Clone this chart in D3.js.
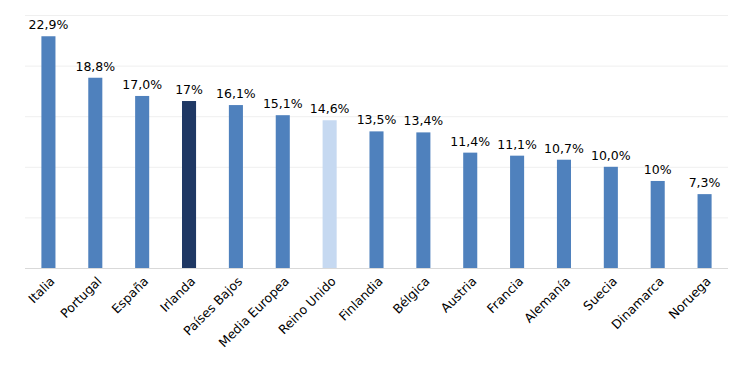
<!DOCTYPE html>
<html lang="es">
  <head>
    <meta charset="UTF-8" />
    <title>Bar Chart</title>
    <script src="https://d3js.org/d3.v7.min.js"></script>
    <style>
      body {
        margin: 0;
        background: #fff;
        font-family: Verdana, "DejaVu Sans", sans-serif;
      }
    </style>
  </head>
  <body>
    <svg width="747" height="377"></svg>
    <script>
      // data
      const countries = [
        "Italia", "Portugal", "España", "Irlanda", "Países Bajos",
        "Media Europea", "Reino Unido", "Finlandia", "Bélgica", "Austria",
        "Francia", "Alemanía", "Suecia", "Dinamarca", "Noruega",
      ];
      const values = [22.9, 18.8, 17.0, 16.5, 16.1, 15.1, 14.6, 13.5, 13.4, 11.4, 11.1, 10.7, 10.0, 8.6, 7.3];
      const labels = ["22,9%", "18,8%", "17,0%", "17%", "16,1%", "15,1%", "14,6%", "13,5%", "13,4%", "11,4%", "11,1%", "10,7%", "10,0%", "10%", "7,3%"];
      const yTicks = [0, 5, 10, 15, 20, 25];

      const colorFor = (name) =>
        name === "Irlanda" ? "#1f3864" : name === "Reino Unido" ? "#c6d9f1" : "#4f81bd";

      const svg = d3.select("svg");
      const margin = { top: 15, right: 19, bottom: 109, left: 25 };
      const width = 747 - margin.left - margin.right;
      const height = 377 - margin.top - margin.bottom;

      const g = svg.append("g").attr("transform", `translate(${margin.left},${margin.top})`);

      const x = d3.scaleBand().domain(countries).range([0, width]).paddingInner(0.7).paddingOuter(0.35);
      const y = d3.scaleLinear().domain([0, 25]).range([height, 0]);

      // gridlines
      g.selectAll(".grid")
        .data(yTicks.slice(1))
        .enter()
        .append("line")
        .attr("x1", 0)
        .attr("x2", width)
        .attr("y1", (d) => y(d) + 0.5)
        .attr("y2", (d) => y(d) + 0.5)
        .attr("stroke", "#efefef");

      const data = countries.map((c, i) => ({ name: c, value: values[i], label: labels[i] }));

      g.selectAll("rect")
        .data(data)
        .enter()
        .append("rect")
        .attr("x", (d) => x(d.name))
        .attr("y", (d) => y(d.value))
        .attr("width", x.bandwidth())
        .attr("height", (d) => height - y(d.value))
        .attr("fill", (d) => colorFor(d.name));

      // baseline
      g.append("line")
        .attr("x1", 0)
        .attr("x2", width)
        .attr("y1", height + 0.5)
        .attr("y2", height + 0.5)
        .attr("stroke", "#d9d9d9");

      // value labels
      g.selectAll(".val")
        .data(data)
        .enter()
        .append("text")
        .attr("x", (d) => x(d.name) + x.bandwidth() / 2)
        .attr("y", (d) => y(d.value) - 7)
        .attr("text-anchor", "middle")
        .attr("font-size", 12.5)
        .attr("fill", "#000")
        .text((d) => d.label);

      // x axis labels
      const xAxis = d3.axisBottom(x).tickSize(0).tickPadding(0);
      const ax = g.append("g").attr("transform", `translate(0,${height})`).call(xAxis);
      ax.select(".domain").remove();
      ax.selectAll("text")
        .attr("font-size", 12.5)
        .attr("font-family", "Verdana, 'DejaVu Sans', sans-serif")
        .attr("fill", "#000")
        .attr("text-anchor", "end")
        .attr("dy", "0.35em")
        .attr("transform", "translate(4,11) rotate(-45)");
    </script>
  </body>
</html>
